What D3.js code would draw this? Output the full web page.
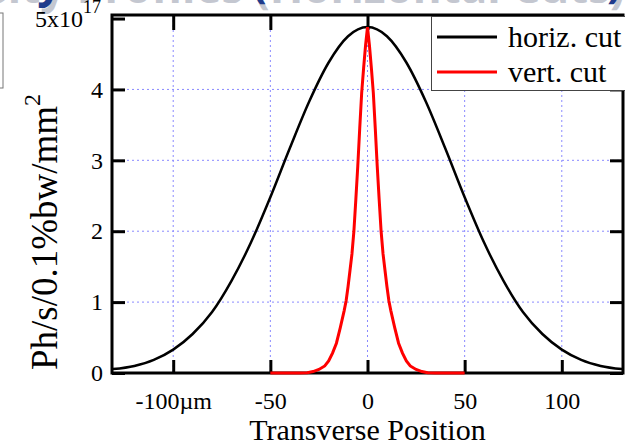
<!DOCTYPE html>
<html>
<head>
<meta charset="utf-8">
<script src="https://cdn.jsdelivr.net/npm/d3@7"></script>
<style>
  body { margin: 0; background: #fff; }
  svg { display: block; font-family: "Liberation Serif", "Times New Roman", serif; }
</style>
</head>
<body>
<div id="chart"></div>
<script>
// data (x in µm, y in 1e17 Ph/s/0.1%bw/mm^2)
var horizX = [-131, -120, -110, -100, -90, -80, -70, -60, -50, -40, -30, -20, -10, 0,
              10, 20, 30, 40, 50, 60, 70, 80, 90, 100, 110, 120, 131];
var horizY = [0.055, 0.10, 0.185, 0.33, 0.55, 0.86, 1.30, 1.84, 2.48, 3.17, 3.83, 4.38, 4.75, 4.88,
              4.75, 4.38, 3.83, 3.17, 2.48, 1.84, 1.30, 0.86, 0.55, 0.33, 0.185, 0.10, 0.055];

var vertX = [-50, -45, -40, -35, -31, -28, -25, -22, -20, -18, -16, -14, -12, -11, -10, -9, -8, -7, -6, -5, -4, -3, -2, -1, 0,
             1, 2, 3, 4, 5, 6, 7, 8, 9, 10, 11, 12, 14, 16, 18, 20, 22, 25, 28, 31, 35, 40, 45, 50];
var vertY = [0, 0, 0, 0, 0.005, 0.02, 0.05, 0.10, 0.17, 0.28, 0.42, 0.64, 0.88, 1.02, 1.22, 1.45, 1.68, 2.0, 2.45, 2.92, 3.45, 3.95, 4.3, 4.62, 4.88,
             4.62, 4.3, 3.95, 3.45, 2.92, 2.45, 2.0, 1.68, 1.45, 1.22, 1.02, 0.88, 0.64, 0.42, 0.28, 0.17, 0.10, 0.05, 0.02, 0.005, 0, 0, 0, 0];

var xTicks = [-100, -50, 0, 50, 100];
var xTickLabels = ["-100µm", "-50", "0", "50", "100"];
var yTicks = [0, 1, 2, 3, 4, 5];
var yTickLabels = ["0", "1", "2", "3", "4", "5x10"];
var seriesNames = ["horiz. cut", "vert. cut"];

var width = 625, height = 445;
var margin = {top: 15, right: 2, bottom: 72, left: 112};

var svg = d3.select('#chart')
            .append('svg')
            .attr('width', width)
            .attr('height', height);

var xScale = d3.scaleLinear()
               .domain([-131.5, 131.5])
               .range([margin.left, width - margin.right]);
var yScale = d3.scaleLinear()
               .domain([0, 5.05])
               .range([height - margin.bottom, margin.top]);

var x0 = margin.left, x1 = width - margin.right;
var y0 = height - margin.bottom, y1 = margin.top;

// clipped slide title at the very top (only the bottom edge shows)
var titleText = 'Flux Density Profiles (Horizontal Cuts)';
svg.append('text')
   .attr('x', 625).attr('y', 3)
   .attr('text-anchor', 'end')
   .style('font-family', '"Open Sans", sans-serif')
   .style('font-weight', 'bold')
   .style('font-size', '44px')
   .attr('fill', '#c4c7d0')
   .text(titleText);
svg.append('text')
   .attr('x', 622).attr('y', -3)
   .attr('text-anchor', 'end')
   .style('font-family', '"Open Sans", sans-serif')
   .style('font-weight', 'bold')
   .style('font-size', '44px')
   .attr('fill', '#1f3b8c')
   .text(titleText);

// leftover box at left edge of slide
svg.append('rect')
   .attr('x', -20).attr('y', 13).attr('width', 23).attr('height', 75)
   .attr('fill', '#fff').attr('stroke', '#777').attr('stroke-width', 1);

// grid
var grid = svg.append('g')
              .attr('stroke', '#8a8aff')
              .attr('stroke-width', 1)
              .attr('stroke-dasharray', '2,3');
grid.selectAll('.vg')
    .data(xTicks)
    .enter().append('line')
    .attr('x1', function(d){ return xScale(d); })
    .attr('x2', function(d){ return xScale(d); })
    .attr('y1', y1).attr('y2', y0);
grid.selectAll('.hg')
    .data([1, 2, 3, 4])
    .enter().append('line')
    .attr('x1', x0).attr('x2', x1)
    .attr('y1', function(d){ return yScale(d); })
    .attr('y2', function(d){ return yScale(d); });

// axes, ticks pointing inward
function styleAxis(g) {
  g.select('.domain').remove();
  g.selectAll('.tick line').attr('stroke', '#000').attr('stroke-width', 3);
  g.selectAll('.tick text')
   .attr('fill', '#000')
   .style('font-family', '"Liberation Serif", serif')
   .style('font-size', '24px');
}

svg.append('g')
   .attr('transform', 'translate(0,' + y0 + ')')
   .call(d3.axisBottom(xScale).tickValues(xTicks).tickSize(-13).tickPadding(19)
           .tickFormat(function(d, i){ return xTickLabels[i]; }))
   .call(styleAxis);

svg.append('g')
   .attr('transform', 'translate(0,' + y1 + ')')
   .call(d3.axisTop(xScale).tickValues(xTicks).tickSize(-15).tickFormat(''))
   .call(styleAxis);

var yAxis = svg.append('g')
   .attr('transform', 'translate(' + x0 + ',0)')
   .call(d3.axisLeft(yScale).tickValues(yTicks).tickSize(-13).tickPadding(9)
           .tickFormat(function(d, i){ return yTickLabels[i]; }))
   .call(styleAxis);
yAxis.selectAll('.tick text')
   .filter(function(d){ return d === 5; })
   .attr('dx', '-2')
   .append('tspan')
   .attr('dy', '-14')
   .style('font-size', '18px')
   .text('17');

svg.append('g')
   .attr('transform', 'translate(' + x1 + ',0)')
   .call(d3.axisRight(yScale).tickValues(yTicks).tickSize(-13).tickFormat(''))
   .call(styleAxis);

// frame
svg.append('rect')
   .attr('x', x0).attr('y', y1)
   .attr('width', x1 - x0).attr('height', y0 - y1)
   .attr('fill', 'none')
   .attr('stroke', '#000')
   .attr('stroke-width', 3);

// curves (drawn over the frame)
svg.append('clipPath').attr('id', 'plotclip')
   .append('rect').attr('x', x0).attr('y', y1 - 3).attr('width', x1 - x0).attr('height', y0 - y1 + 6);

var line = d3.line()
             .x(function(d){ return xScale(d[0]); })
             .y(function(d){ return yScale(d[1]); });

svg.append('path')
   .datum(d3.zip(horizX, horizY))
   .attr('clip-path', 'url(#plotclip)')
   .attr('fill', 'none')
   .attr('stroke', '#000')
   .attr('stroke-width', 2.5)
   .attr('d', line.curve(d3.curveMonotoneX));

svg.append('path')
   .datum(d3.zip(vertX, vertY))
   .attr('clip-path', 'url(#plotclip)')
   .attr('fill', 'none')
   .attr('stroke', '#ff0000')
   .attr('stroke-width', 3)
   .attr('d', line.curve(d3.curveLinear));

// axis titles
svg.append('text')
   .attr('x', (x0 + x1) / 2)
   .attr('y', 440)
   .attr('text-anchor', 'middle')
   .style('font-size', '30px')
   .text('Transverse Position');

var ylab = svg.append('text')
   .attr('transform', 'translate(57,' + 232 + ') rotate(-90)')
   .attr('text-anchor', 'middle')
   .style('font-size', '37px')
   .text('Ph/s/0.1%bw/mm');
ylab.append('tspan')
   .attr('dy', '-0.7em')
   .style('font-size', '24px')
   .text('2');

// legend
var legend = svg.append('g');
legend.append('rect')
   .attr('x', 431.5).attr('y', 16.5)
   .attr('width', 220).attr('height', 74)
   .attr('fill', '#fff')
   .attr('stroke', '#444')
   .attr('stroke-width', 1);
var legColors = ['#000', '#ff0000'];
var legRows = legend.selectAll('.row')
   .data(seriesNames)
   .enter().append('g')
   .attr('transform', function(d, i){ return 'translate(0,' + (37 + i * 35) + ')'; });
legRows.append('line')
   .attr('x1', 437).attr('x2', 497)
   .attr('stroke', function(d, i){ return legColors[i]; })
   .attr('stroke-width', 3);
legRows.append('text')
   .attr('x', 508).attr('y', 10)
   .style('font-size', '30px')
   .text(function(d){ return d; });
</script>
</body>
</html>
